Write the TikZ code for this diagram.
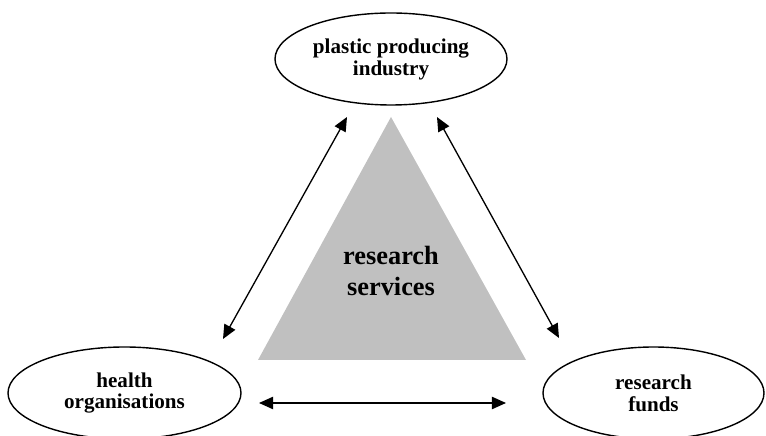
\documentclass[tikz,border=0pt]{standalone}
\usepackage{fontspec}
\setmainfont{Liberation Serif}
\usepackage{xcolor}
\usepackage{tikz}
\usetikzlibrary{shapes.geometric, arrows.meta, positioning, calc}
\definecolor{servicegray}{HTML}{C0C0C0}

\tikzset{
    partner/.style={ellipse, draw=black, line width=0.8pt, inner sep=0pt,
        align=center, font=\fontsize{12}{12.5}\selectfont\bfseries},
    link/.style={line width=0.75pt, {Triangle[length=8pt, width=7pt]}-{Triangle[length=8pt, width=7pt]}}
}

\begin{document}
\begin{tikzpicture}
    \useasboundingbox (0, 0) rectangle (15.32, 8.72);

    % Central triangle
    \fill[servicegray] (7.82, 6.38) -- (10.52, 1.52) -- (5.16, 1.52) -- cycle;
    \node[font=\fontsize{15}{18}\selectfont\bfseries, align=center] (services) at (7.82, 3.3) {research\\services};

    % Partners
    \node[partner, minimum width=4.64cm, minimum height=1.84cm] (industry) at (7.82, 7.54) {plastic producing\\industry};
    \node[partner, minimum width=4.66cm, minimum height=1.84cm] (health) at (2.49, 0.86) {health\\organisations};
    \node[partner, minimum width=4.42cm, minimum height=1.84cm] (funds) at (13.07, 0.86) {research\\funds};

    % Arrow ends
    \coordinate (hl) at (4.46, 1.94);
    \coordinate (il) at (6.94, 6.38);
    \coordinate (ir) at (8.74, 6.38);
    \coordinate (fr) at (11.18, 1.96);
    \coordinate (hb) at (5.18, 0.66);
    \coordinate (fb) at (10.12, 0.66);

    \draw[link] (hl) -- (il);
    \draw[link] (ir) -- (fr);
    \draw[link] (hb) -- (fb);
\end{tikzpicture}
\end{document}
